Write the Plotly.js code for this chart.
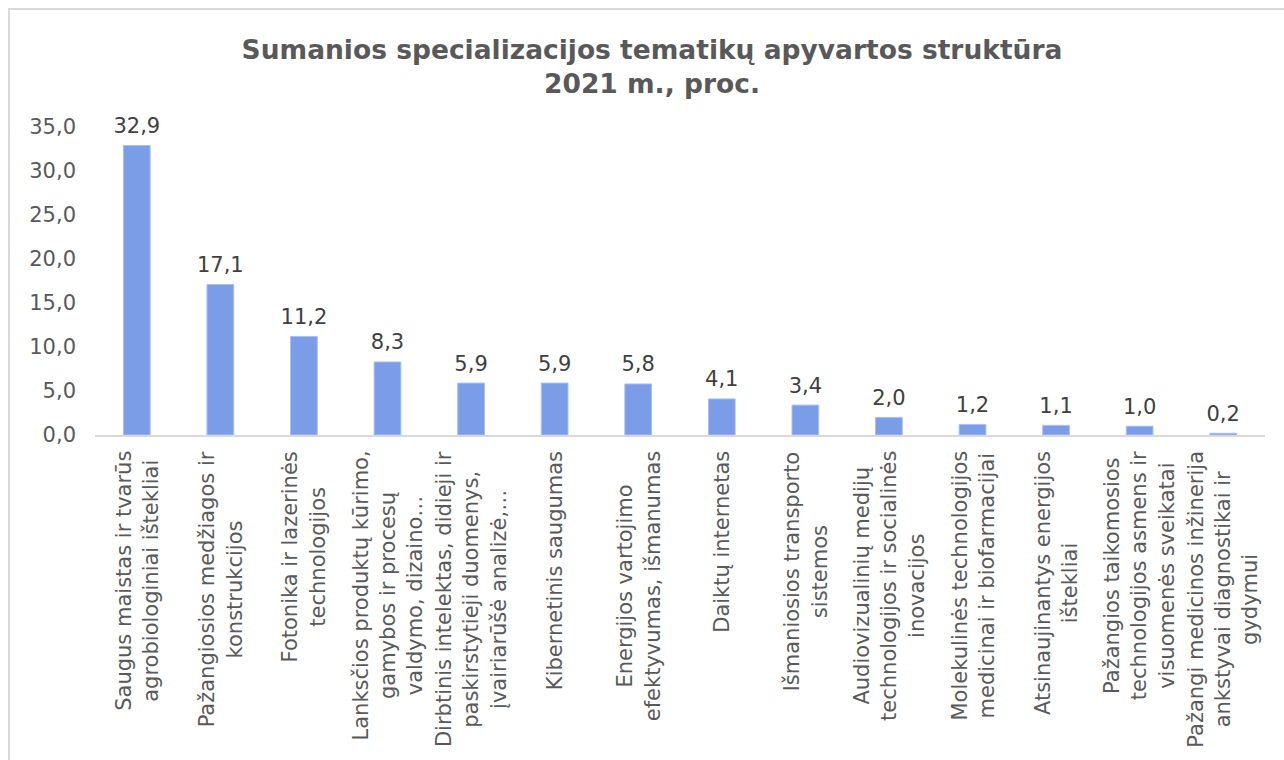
<!DOCTYPE html>
<html>
<head>
<meta charset="utf-8">
<script src="https://cdn.plot.ly/plotly-3.0.1.min.js"></script>
<style>
  html, body { margin: 0; padding: 0; background: #ffffff; }
  #frame { position: absolute; left: 8px; top: 8px; width: 1290px; height: 800px; border-left: 2px solid #d9d9d9; border-top: 2px solid #d9d9d9; box-sizing: border-box; }
  #chart { position: absolute; left: 0; top: 0; width: 1284px; height: 760px; }
</style>
</head>
<body>
<div id="frame"></div>
<div id="chart"></div>
<script>
const categories = [
  "Saugus maistas ir tvarūs<br>agrobiologiniai ištekliai",
  "Pažangiosios medžiagos ir<br>konstrukcijos",
  "Fotonika ir lazerinės<br>technologijos",
  "Lanksčios produktų kūrimo,<br>gamybos ir procesų<br>valdymo, dizaino…",
  "Dirbtinis intelektas, didieji ir<br>paskirstytieji duomenys,<br>įvairiarūšė analizė,…",
  "Kibernetinis saugumas",
  "Energijos vartojimo<br>efektyvumas, išmanumas",
  "Daiktų internetas",
  "Išmaniosios transporto<br>sistemos",
  "Audiovizualinių medijų<br>technologijos ir socialinės<br>inovacijos",
  "Molekulinės technologijos<br>medicinai ir biofarmacijai",
  "Atsinaujinantys energijos<br>ištekliai",
  "Pažangios taikomosios<br>technologijos asmens ir<br>visuomenės sveikatai",
  "Pažangi medicinos inžinerija<br>ankstyvai diagnostikai ir<br>gydymui"
];
const values = [32.9, 17.1, 11.2, 8.3, 5.9, 5.9, 5.8, 4.1, 3.4, 2.0, 1.2, 1.1, 1.0, 0.2];
const yTicks = [0, 5, 10, 15, 20, 25, 30, 35];
const titleText = "Sumanios specializacijos tematikų apyvartos struktūra<br>2021 m., proc.";

const FONT = "Verdana, 'DejaVu Sans', sans-serif";

const bars = {
  type: "bar",
  x: categories,
  y: values,
  marker: { color: "#7b9ce6", line: { color: "#a9bff0", width: 1 } },
  hoverinfo: "skip"
};

const labels = {
  type: "scatter",
  mode: "markers+text",
  x: categories,
  y: values,
  marker: { size: 10, opacity: 0 },
  texttemplate: "%{y:.1f}",
  textposition: "top center",
  cliponaxis: false,
  textfont: { family: FONT, size: 21, color: "#404040" },
  hoverinfo: "skip"
};

const annotations = categories.map(c => ({
  x: c, xref: "x",
  y: 0, yref: "y",
  yanchor: "top", xanchor: "center",
  yshift: -14,
  text: c,
  textangle: -90,
  align: "center",
  showarrow: false,
  font: { family: FONT, size: 21, color: "#595959" }
}));

const layout = {
  width: 1284, height: 760,
  paper_bgcolor: "rgba(0,0,0,0)",
  plot_bgcolor: "rgba(0,0,0,0)",
  separators: ", ",
  margin: { l: 95, r: 19, t: 127, b: 325, pad: 0 },
  showlegend: false,
  bargap: 0.68,
  title: {
    text: titleText,
    font: { family: FONT, size: 26.5, color: "#595959", weight: "bold" },
    x: 652 / 1284, xanchor: "center", xref: "container",
    y: 1 - 59 / 760, yanchor: "top", yref: "container"
  },
  xaxis: {
    type: "category",
    range: [-0.5, categories.length - 0.5],
    showticklabels: false,
    showgrid: false,
    showline: true,
    linecolor: "#d9d9d9",
    linewidth: 2,
    ticks: "",
    zeroline: false,
    fixedrange: true
  },
  yaxis: {
    range: [0, 35],
    tickvals: yTicks,
    tickformat: ".1f",
    showgrid: false,
    showline: false,
    zeroline: false,
    ticks: "",
    ticklabelstandoff: 18,
    tickfont: { family: FONT, size: 21, color: "#595959" },
    fixedrange: true
  },
  annotations: annotations
};

Plotly.newPlot("chart", [bars, labels], layout, { displayModeBar: false, staticPlot: true });
</script>
</body>
</html>
